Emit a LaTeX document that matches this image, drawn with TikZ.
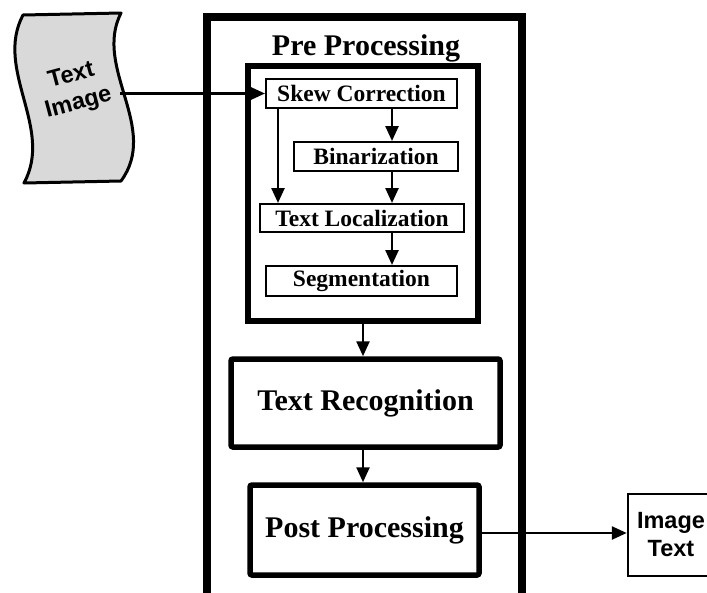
\documentclass[tikz,border=0pt]{standalone}
\usepackage{fontspec}
\setmainfont{Liberation Serif}
\newfontfamily\labelsans{Liberation Sans}
\usetikzlibrary{arrows.meta}

\definecolor{sheetgray}{RGB}{217,217,217}

\tikzset{
  arr/.style={line width=2.5pt, -{Triangle[length=15pt,width=13pt]}},
  stepbox/.style={draw, line width=2pt, inner sep=0pt,
    font=\fontsize{23.5}{28}\selectfont\bfseries},
  stagebox/.style={draw, line width=5.5pt, rounded corners=2pt, inner sep=0pt,
    font=\fontsize{30}{36}\selectfont\bfseries},
  framebox/.style={draw, inner sep=0pt},
  outbox/.style={draw, line width=2.5pt, inner sep=0pt, align=center,
    font=\fontsize{23.5}{28}\selectfont\labelsans\bfseries},
}

\begin{document}
\begin{tikzpicture}[x=1pt,y=-1pt]
\useasboundingbox (0,0) rectangle (707,592);
\clip (0,0) rectangle (707,592);

% outer frame (runs past the lower edge) and its title
\node[framebox, line width=8pt, minimum width=315pt, minimum height=600pt] (outer) at (364.5,317) {};
\node[anchor=base, font=\fontsize{30}{36}\selectfont\bfseries] (title) at (366,55) {Pre Processing};

% pre-processing group
\node[framebox, line width=6pt, minimum width=230pt, minimum height=255pt] (pre) at (363,193.5) {};
\node[stepbox, minimum width=191pt, minimum height=29pt] (skew) at (361.5,93.5) {Skew Correction};
\node[stepbox, minimum width=164pt, minimum height=29pt] (bin) at (376,156.5) {Binarization};
\node[stepbox, minimum width=204pt, minimum height=28pt] (loc) at (362,218) {Text Localization};
\node[stepbox, minimum width=191pt, minimum height=30pt] (seg) at (361.5,281) {Segmentation};

% later stages
\node[stagebox, minimum width=269pt, minimum height=88pt] (rec) at (365.5,403) {Text Recognition};
\node[stagebox, minimum width=229pt, minimum height=90pt] (post) at (364.5,530) {Post Processing};

% output
\node[outbox, minimum width=86pt, minimum height=82pt] (itext) at (671,535) {Image\\Text};

% input sheet
\draw[line width=3pt, fill=sheetgray, line join=round]
  (23,15) -- (121,13)
  .. controls (93,68) and (160,128) .. (121,181)
  -- (24,183)
  .. controls (54,128) and (-6,70) .. (23,15) -- cycle;
\node[rotate=15, align=center, font=\fontsize{23.5}{28}\selectfont\labelsans\bfseries] (tin) at (75,90) {Text\\Image};
\coordinate (tiout) at (120,93.5);

% connectors
\draw[arr] (tiout) -- (skew.west);
\draw[arr] ([xshift=13pt]skew.south west) -- ([xshift=13pt]skew.south west |- loc.north);
\draw[arr] ([xshift=30.5pt]skew.south) -- ([xshift=30.5pt]skew.south |- bin.north);
\draw[arr] ([xshift=16pt]bin.south) -- ([xshift=16pt]bin.south |- loc.north);
\draw[arr] ([xshift=30pt]loc.south) -- ([xshift=30pt]loc.south |- seg.north);
\draw[arr] (pre.south) -- (pre.south |- rec.north);
\draw[arr] (rec.south -| pre.south) -- (pre.south |- post.north);
\draw[arr] ([yshift=-3pt]post.east) -- ([yshift=-3pt]post.east -| itext.west);
\end{tikzpicture}
\end{document}
